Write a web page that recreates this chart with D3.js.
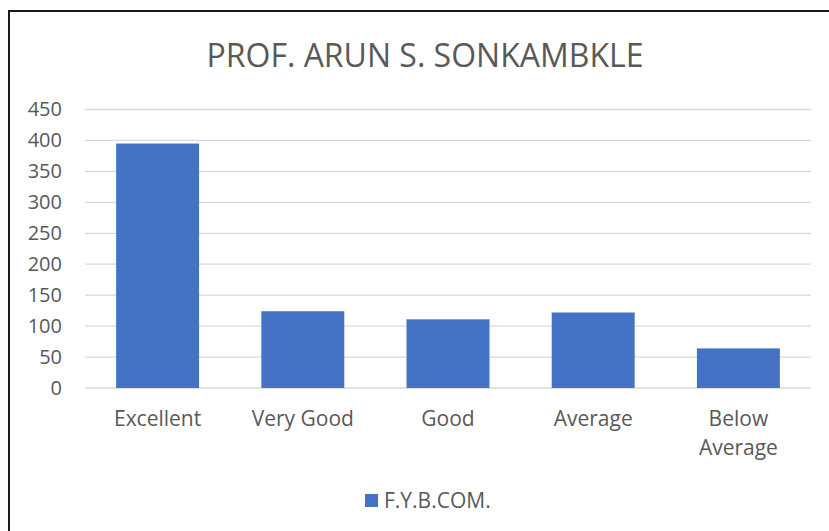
<!DOCTYPE html>
<html>
<head>
<meta charset="utf-8">
<script src="https://cdnjs.cloudflare.com/ajax/libs/d3/7.8.5/d3.min.js"></script>
<style>
  body { margin: 0; background: #fff; }
  text { font-family: "Open Sans", sans-serif; fill: #595959; }
</style>
</head>
<body>
<script>
// data
var categories = ["Excellent", "Very Good", "Good", "Average", "Below Average"];
var values = [395, 124, 111, 122, 64];
var yTicks = [0, 50, 100, 150, 200, 250, 300, 350, 400, 450];
var seriesName = "F.Y.B.COM.";
var title = "PROF. ARUN S. SONKAMBKLE";

var winWidth = 829, winHeight = 531;
var margin = {top: 109.5, right: 18, bottom: 143, left: 85};
var width = winWidth - margin.left - margin.right;
var height = winHeight - margin.top - margin.bottom;

var root = d3.select("body").append("svg")
    .attr("width", winWidth)
    .attr("height", winHeight);

// chart border (runs off right and bottom)
root.append("rect")
    .attr("x", 9).attr("y", 11)
    .attr("width", winWidth + 20).attr("height", winHeight + 20)
    .attr("fill", "none")
    .attr("stroke", "#1a1a1a")
    .attr("stroke-width", 2);

root.append("text")
    .attr("x", 425).attr("y", 67)
    .attr("text-anchor", "middle")
    .style("font-size", "32px")
    .text(title);

var svg = root.append("g")
    .attr("transform", "translate(" + margin.left + "," + margin.top + ")");

var x = d3.scaleBand()
    .domain(categories)
    .range([0, width])
    .paddingInner(0.4286)
    .paddingOuter(0.2143);

var y = d3.scaleLinear()
    .domain([0, 450])
    .range([height, 0]);

// gridlines
svg.append("g")
    .selectAll("line")
    .data(yTicks)
    .enter().append("line")
    .attr("x1", 0).attr("x2", width)
    .attr("y1", function(d) { return y(d); })
    .attr("y2", function(d) { return y(d); })
    .attr("stroke", "#d9d9d9")
    .attr("stroke-width", 1.3);

// bars
svg.selectAll("rect.bar")
    .data(values)
    .enter().append("rect")
    .attr("class", "bar")
    .attr("x", function(d, i) { return x(categories[i]); })
    .attr("y", function(d) { return y(d); })
    .attr("width", x.bandwidth())
    .attr("height", function(d) { return height - y(d); })
    .attr("fill", "#4472c4");

// y axis
var yAxis = svg.append("g")
    .call(d3.axisLeft(y).tickValues(yTicks).tickSize(0).tickPadding(23));
yAxis.select(".domain").remove();
yAxis.selectAll("text")
    .style("font-size", "20px")
    .attr("fill", "#595959");

// x axis, wrapping long labels
var xAxis = svg.append("g")
    .attr("transform", "translate(0," + height + ")")
    .call(d3.axisBottom(x).tickSize(0).tickPadding(0));
xAxis.select(".domain").remove();
xAxis.selectAll("text")
    .style("font-size", "21px")
    .attr("fill", "#595959")
    .attr("y", 0)
    .attr("dy", null)
    .each(function(d) {
        var t = d3.select(this).text("");
        var words = d.split(" ");
        var lines = words.length > 1 && d.length > 10 ? words : [d];
        lines.forEach(function(w, i) {
            t.append("tspan")
                .attr("x", 0)
                .attr("y", 38 + i * 29)
                .text(w);
        });
    });

// legend
var legend = root.append("g").attr("transform", "translate(365,494)");
legend.append("rect")
    .attr("width", 13).attr("height", 13)
    .attr("fill", "#4472c4");
legend.append("text")
    .attr("x", 19).attr("y", 14)
    .style("font-size", "21px")
    .text(seriesName);
</script>
</body>
</html>
